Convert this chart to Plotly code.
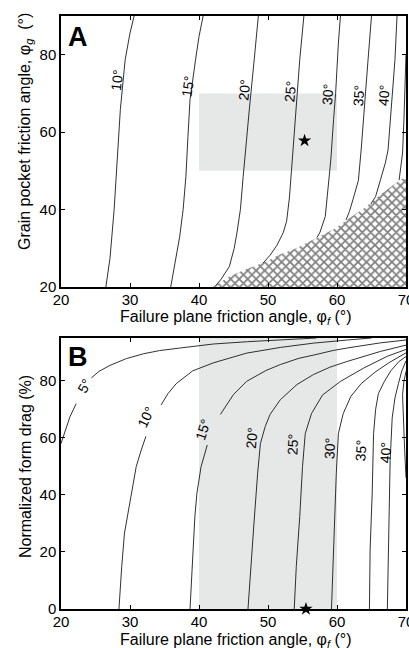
import plotly.graph_objects as go

W, H = 409, 648
FONT = "Liberation Sans, Arial, sans-serif"

# ---------------- Panel A data (x: failure plane angle, y: grain pocket angle)
A_LEVELS = ["10°", "15°", "20°", "25°", "30°", "35°", "40°", "45°"]
A10_X = [26.5, 27.1, 27.7, 28.1, 28.6, 29.3, 30.0, 30.6]
A10_Y = [20, 27.4, 40, 52.8, 65.8, 78.7, 85.6, 90]
A15_X = [35.9, 36.5, 37.2, 37.7, 38.1, 38.4, 38.7, 39.5, 40.0, 40.6]
A15_Y = [20, 26.1, 33, 40, 48.5, 58.9, 68.4, 78.7, 84.7, 90]
A20_X = [42.4, 43.2, 44.4, 45.1, 45.5, 46.0, 46.4, 46.9, 47.3, 48.0, 48.6]
A20_Y = [20.3, 22, 25.3, 30, 34, 40, 48.5, 57.2, 66, 78.7, 90]
A25_X = [49.3, 50.3, 51.3, 52.2, 52.7, 53.1, 53.4, 53.7, 53.9, 54.2, 54.6, 55.2]
A25_Y = [26.2, 28.2, 30.8, 34, 37, 43, 50, 57, 61.5, 70, 78.7, 90]
A30_X = [57.1, 57.5, 58.3, 58.7, 59.1, 59.5, 59.8, 60.2, 60.5]
A30_Y = [32.8, 34, 38.2, 45.1, 52.8, 63.2, 70, 83, 90]
A35_X = [61.3, 61.8, 62.3, 62.8, 63.1, 63.5, 63.8, 64.1, 64.5, 65.0]
A35_Y = [37.3, 39.5, 42.5, 45.5, 47.5, 55.4, 63.2, 70, 78.7, 90]
A40_X = [64.9, 65.6, 66.3, 67.0, 67.4, 67.6, 67.8, 68.1, 68.4, 68.7]
A40_Y = [41.4, 43.4, 47.7, 52, 55.4, 60, 66, 72, 78.7, 90]
A45_X = [69.0, 69.5, 69.7, 69.85, 70.0]
A45_Y = [47.6, 54.6, 63.2, 72, 80]
A_X = [A10_X, A15_X, A20_X, A25_X, A30_X, A35_X, A40_X, A45_X]
A_Y = [A10_Y, A15_Y, A20_Y, A25_Y, A30_Y, A35_Y, A40_Y, A45_Y]
A_LABEL_X = [28.1, 38.4, 46.5, 53.3, 58.6, 63.1, 66.8]
A_LABEL_Y = [73.5, 71.9, 71.0, 70.5, 69.7, 69.4, 69.6]
A_LABEL_ANGLE = [-84, -82, -84, -85, -86, -86, -86]

HATCH_X = [42.0, 44.4, 46.8, 49.7, 51.6, 54.1, 56.5, 58.4, 59.8, 61.8, 63.7, 66.6, 69.2, 70, 70]
HATCH_Y = [20, 22.7, 24.6, 26.5, 28.3, 30, 32.2, 33.9, 35.2, 37.8, 40, 44.3, 47.7, 48.5, 20]

SHADE_A_X = [40, 60]
SHADE_A_Y = [50, 70]
STAR_A_X = [55.3]
STAR_A_Y = [57.8]

# ---------------- Panel B data (x: failure plane angle, y: normalized form drag %)
B_LEVELS = ["5°", "10°", "15°", "20°", "25°", "30°", "35°", "40°", "45°"]
B05_X = [20, 20.6, 21.3, 22.2, None, 24.4, 25.5, 27.1, 29.5, 32.0, 34.3, 37.3, 42.1, 47.0, 51.8, 57.0]
B05_Y = [58, 62.5, 67.4, 72.0, None, 81.0, 83.3, 85.4, 87.8, 89.5, 90.6, 91.5, 92.9, 93.7, 94.3, 95]
B10_X = [28.4, 28.6, 28.8, 29.2, 30.0, 30.9, 31.6, 32.3, None, 34.5, 35.5, 36.7, 39.1, 42.1, 46.9, 51.8, 56.6, 61.5, 65.0]
B10_Y = [0, 8, 14.9, 26.6, 38.2, 49.9, 55.5, 60.5, None, 71.5, 75.5, 79.0, 83.5, 86.3, 89.7, 91.7, 93.2, 94.3, 95]
B15_X = [38.7, 39.0, 39.4, 39.7, 40.3, 41.2, None, 43.1, 45.0, 46.9, 49.7, 51.8, 54.5, 56.6, 59.4, 61.5, 64.2, 66.3, 70]
B15_Y = [0, 14.9, 32.4, 40.6, 49.9, 57.5, None, 68.2, 75.2, 79.8, 83.6, 85.7, 87.9, 89.0, 90.6, 91.5, 92.6, 93.3, 94.3]
B20_X = [47.1, 47.5, 48.0, 48.5, 48.9, 49.6, 50.3, 51.8, 54.2, 56.6, 59.0, 61.5, 66.3, 70]
B20_Y = [0, 14.9, 31.2, 47.6, 58.0, 64, 68.2, 73.4, 78.7, 82.2, 84.8, 86.8, 90.3, 92.5]
B25_X = [53.8, 54.1, 54.6, 55.0, 55.4, 56.3, 57.9, 60.5, 63.9, 67.3, 70]
B25_Y = [0, 14.9, 32.4, 49.9, 61.5, 68.5, 75, 79.8, 84.5, 88.6, 91]
B30_X = [59.2, 59.4, 59.6, 59.9, 60.2, 60.9, 62.0, 63.5, 65.5, 67.5, 70]
B30_Y = [0, 15, 32.4, 47.6, 61.5, 68.5, 74.5, 79, 83, 86.3, 89.8]
B35_X = [64.7, 64.8, 65.1, 65.3, 65.6, 66.0, 66.8, 67.8, 69.0, 70]
B35_Y = [0, 20.7, 40.6, 61.5, 70, 75.5, 79.5, 83.5, 86.8, 88.5]
B40_X = [67.3, 67.5, 67.7, 68.0, 68.4, 68.9, 69.4, 70]
B40_Y = [0, 26, 52, 67, 74, 79, 83.5, 87]
B45_X = [70, 69.7, 69.5, 69.6, 69.8, 70]
B45_Y = [83.3, 79.8, 75.2, 66, 56, 46]
B_X = [B05_X, B10_X, B15_X, B20_X, B25_X, B30_X, B35_X, B40_X, B45_X]
B_Y = [B05_Y, B10_Y, B15_Y, B20_Y, B25_Y, B30_Y, B35_Y, B40_Y, B45_Y]
B_LABEL_X = [23.4, 32.3, 40.5, 47.7, 53.6, 58.9, 63.4, 67.1]
B_LABEL_Y = [78.1, 67.4, 62.9, 59.8, 57.8, 56.2, 55.5, 54.9]
B_LABEL_ANGLE = [-60, -65, -72, -85, -87, -87, -87, -87]

SHADE_B_X = [40, 60]
SHADE_B_Y = [0, 95]
STAR_B_X = [55.5]
STAR_B_Y = [0]

X_TICKS = [20, 30, 40, 50, 60, 70]
A_Y_TICKS = [20, 40, 60, 80]
B_Y_TICKS = [0, 20, 40, 60, 80]

# ---------------- layout geometry (pixels)
ML, MR, MT, MB = 61, 3, 16, 39
PW, PH = W - ML - MR, H - MT - MB
A_TOP, A_BOT = 16, 287
B_TOP, B_BOT = 338, 609


def py2paper(py):
    return 1 - (py - MT) / PH


def px2paper(px):
    return (px - ML) / PW


fig = go.Figure()
LINE = dict(color="#1a1a1a", width=0.9)

# hatch region (panel A)
fig.add_trace(go.Scatter(
    x=HATCH_X, y=HATCH_Y, xaxis="x", yaxis="y", mode="lines", fill="toself",
    fillcolor="white", line=dict(width=0, color="black"),
    fillpattern=dict(shape="x", fgcolor="black", bgcolor="white", size=6, solidity=0.5),
    hoverinfo="skip", showlegend=False))

for xs, ys in zip(A_X, A_Y):
    fig.add_trace(go.Scatter(x=xs, y=ys, xaxis="x", yaxis="y", mode="lines",
                             line=LINE, showlegend=False, hoverinfo="skip"))
for xs, ys in zip(B_X, B_Y):
    fig.add_trace(go.Scatter(x=xs, y=ys, xaxis="x2", yaxis="y2", mode="lines",
                             line=LINE, showlegend=False, hoverinfo="skip"))

fig.add_trace(go.Scatter(x=STAR_A_X, y=STAR_A_Y, xaxis="x", yaxis="y", mode="markers",
                         marker=dict(symbol="star", size=10, color="black"),
                         showlegend=False, cliponaxis=False))
fig.add_trace(go.Scatter(x=STAR_B_X, y=STAR_B_Y, xaxis="x2", yaxis="y2", mode="markers",
                         marker=dict(symbol="star", size=10, color="black"),
                         showlegend=False, cliponaxis=False))

shapes = [
    dict(type="rect", xref="x", yref="y", x0=SHADE_A_X[0], x1=SHADE_A_X[1],
         y0=SHADE_A_Y[0], y1=SHADE_A_Y[1], fillcolor="#e6e7e7", line=dict(width=0), layer="below"),
    dict(type="rect", xref="x2", yref="y2", x0=SHADE_B_X[0], x1=SHADE_B_X[1],
         y0=SHADE_B_Y[0], y1=SHADE_B_Y[1], fillcolor="#e6e7e7", line=dict(width=0), layer="below"),
]

C = dict(xanchor="center", yanchor="middle", showarrow=False)
annotations = []
for t, x, y, a in zip(A_LEVELS, A_LABEL_X, A_LABEL_Y, A_LABEL_ANGLE):
    annotations.append(dict(C, text=t, x=x, y=y, xref="x", yref="y",
                            textangle=a, font=dict(family=FONT, size=14, color="black")))
for t, x, y, a in zip(B_LEVELS, B_LABEL_X, B_LABEL_Y, B_LABEL_ANGLE):
    annotations.append(dict(C, text=t, x=x, y=y, xref="x2", yref="y2",
                            textangle=a, font=dict(family=FONT, size=14, color="black")))

TITLE_FONT = dict(family=FONT, size=16, color="black")
annotations += [
    dict(C, text="<b>A</b>", x=px2paper(78), y=py2paper(37), xref="paper", yref="paper",
         font=dict(family=FONT, size=27, color="black")),
    dict(C, text="<b>B</b>", x=px2paper(77.5), y=py2paper(357), xref="paper", yref="paper",
         font=dict(family=FONT, size=27, color="black")),
    dict(C, text="Failure plane friction angle, φ<sub><i>f</i></sub> (°)", x=px2paper(236),
         y=py2paper(318), xref="paper", yref="paper", font=TITLE_FONT),
    dict(C, text="Failure plane friction angle, φ<sub><i>f</i></sub> (°)", x=px2paper(236),
         y=py2paper(640), xref="paper", yref="paper", font=TITLE_FONT),
    dict(C, text="Grain pocket friction angle, φ<sub><i>g</i></sub>  (°)", x=px2paper(25),
         y=py2paper(132), xref="paper", yref="paper", textangle=-90, font=TITLE_FONT),
    dict(C, text="Normalized form drag (%)", x=px2paper(25), y=py2paper(467),
         xref="paper", yref="paper", textangle=-90, font=TITLE_FONT),
]

AX = dict(showline=True, linecolor="black", linewidth=1.5, mirror="ticks",
          ticks="inside", ticklen=4, tickwidth=1, tickcolor="black",
          showgrid=False, zeroline=False, automargin=False,
          tickfont=dict(family=FONT, size=15, color="black"))
XAX = dict(AX, ticklabeloverflow="allow", ticklabelstandoff=-2)

fig.update_layout(
    width=W, height=H, autosize=False,
    margin=dict(l=ML, r=MR, t=MT, b=MB, pad=0, autoexpand=False),
    paper_bgcolor="white", plot_bgcolor="white",
    showlegend=False,
    xaxis=dict(XAX, range=[20, 70], tickvals=X_TICKS, domain=[0, 1], anchor="y"),
    yaxis=dict(AX, range=[20, 90], tickvals=A_Y_TICKS,
               domain=[py2paper(A_BOT), py2paper(A_TOP)], anchor="x"),
    xaxis2=dict(XAX, range=[20, 70], tickvals=X_TICKS, domain=[0, 1], anchor="y2"),
    yaxis2=dict(AX, range=[0, 95], tickvals=B_Y_TICKS,
                domain=[py2paper(B_BOT), py2paper(B_TOP)], anchor="x2"),
    shapes=shapes,
    annotations=annotations,
)

fig.write_html("out.html", config={"displayModeBar": False},
               post_script="document.body.style.margin='0';document.body.style.overflow='hidden';")
